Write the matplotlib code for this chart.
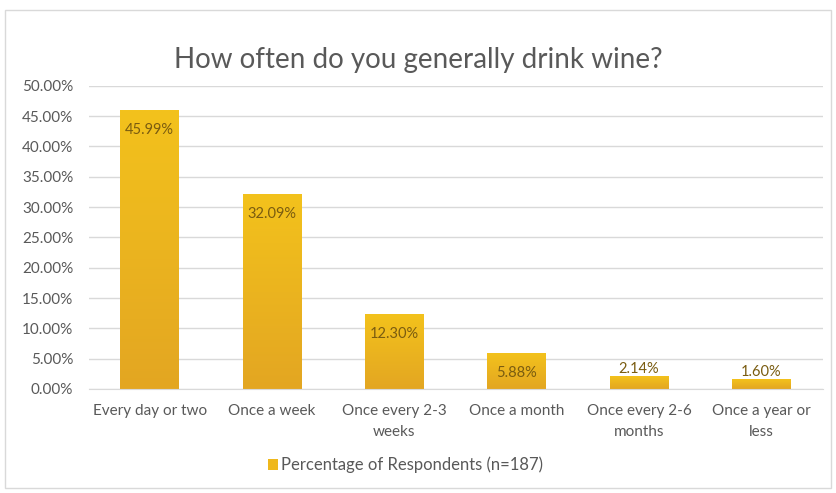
import numpy as np
import matplotlib.pyplot as plt
from matplotlib.colors import LinearSegmentedColormap
from matplotlib.patches import Rectangle
from matplotlib.ticker import FuncFormatter

plt.rcParams['font.family'] = ['Lato', 'DejaVu Sans']

categories = ["Every day or two", "Once a week", "Once every 2-3\nweeks",
              "Once a month", "Once every 2-6\nmonths", "Once a year or\nless"]
values = [45.99, 32.09, 12.30, 5.88, 2.14, 1.60]
series_name = "Percentage of Respondents (n=187)"

fig = plt.figure(figsize=(8.36, 4.93), dpi=100)
frame = Rectangle((0.006, 0.01), 0.988, 0.97, transform=fig.transFigure,
                  facecolor='white', edgecolor='#d9d9d9', lw=1.0, zorder=-1)
fig.patches.append(frame)
ax = fig.add_axes([0.106, 0.211, 0.878, 0.615])
ax.set_facecolor('none')

x = np.arange(len(categories))
bars = ax.bar(x, values, width=0.48, color='#efb81c', zorder=2,
              label=series_name)

# vertical gold gradient inside each bar
cmap = LinearSegmentedColormap.from_list('gold', ['#e3a622', '#f3c21c'])
grad = np.linspace(0, 1, 256).reshape(-1, 1)
for b in bars:
    x0, w, h = b.get_x(), b.get_width(), b.get_height()
    im = ax.imshow(grad, cmap=cmap, origin='lower', aspect='auto',
                   extent=(x0, x0 + w, 0, h), zorder=2.1)
    im.set_clip_path(b)

# value labels: inside the top of tall bars, just above the short ones
for xi, v in zip(x, values):
    dy = -14 if v > 4 else 5
    ax.annotate(f"{v:.2f}%", (xi, v), xytext=(0, dy), textcoords='offset points',
                ha='center', va='center', fontsize=10.5, color='#7a5c10', zorder=3)

ax.set_xlim(-0.5, len(categories) - 0.5)
ax.set_ylim(0, 50)
ax.set_yticks(np.arange(0, 51, 5))
ax.yaxis.set_major_formatter(FuncFormatter(lambda v, p: f"{v:.2f}%"))
ax.set_xticks(x)
ax.set_xticklabels(categories, linespacing=1.6)
ax.tick_params(axis='both', length=0, labelsize=11, colors='#595959')
ax.tick_params(axis='y', pad=11)
ax.tick_params(axis='x', pad=11)
ax.grid(axis='y', color='#d9d9d9', lw=1, zorder=0)
for s in ax.spines.values():
    s.set_visible(False)
ax.spines['bottom'].set_visible(True)
ax.spines['bottom'].set_color('#d9d9d9')

fig.suptitle("How often do you generally drink wine?", y=0.905, fontsize=20,
             color='#595959')
fig.legend(handles=[bars], labels=[series_name], loc='center', bbox_to_anchor=(0.485, 0.057),
           frameon=False, fontsize=12, labelcolor='#595959', handlelength=0.6,
           handleheight=0.6, handletextpad=0.2)

fig.savefig('out.png', dpi=100)
